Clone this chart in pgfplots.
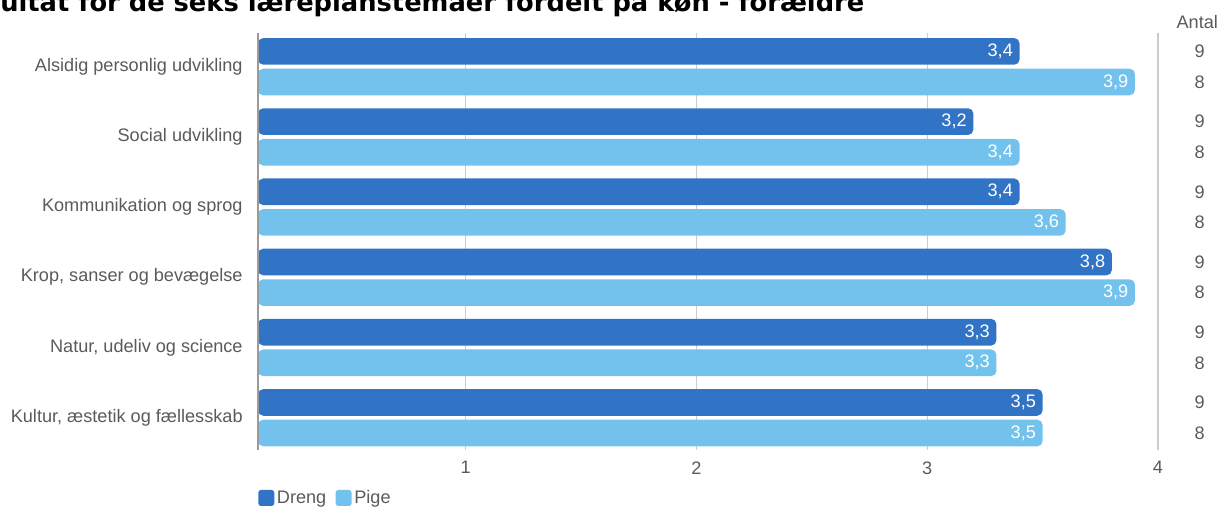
\documentclass[border=0pt]{standalone}
\usepackage{pgfplots}
\pgfplotsset{compat=1.18}
\usepackage{fontspec}
\setmainfont{Liberation Sans}
\newfontfamily\titlefont{DejaVu Sans}
\definecolor{dreng}{HTML}{3174C6}
\definecolor{pige}{HTML}{73C2EE}
\definecolor{txt}{HTML}{5A5A5A}
\definecolor{gridc}{HTML}{CCCCCC}
\definecolor{axc}{HTML}{9A9A9A}
\newcommand\lblfont{\fontsize{13.6}{15}\selectfont}
\begin{document}
\begin{tikzpicture}
\useasboundingbox (0,0) rectangle (917.25pt,381pt);
\node[anchor=base west, inner sep=0pt, font=\titlefont\bfseries\fontsize{19.3}{22}\selectfont] at (0pt,372pt) {\llap{Res}ultat for de seks læreplanstemaer fordelt på køn - forældre};
\begin{axis}[
  at={(193.5pt,43.5pt)}, anchor=south west,
  scale only axis, width=675pt, height=312.75pt,
  xbar, xmin=0.1, xmax=4,
  ymin=-0.48, ymax=5.46, y dir=reverse,
  bar width=0.38,
  axis line style={draw=none},
  xtick={1,2,3,4}, ytick={0,1,2,3,4,5},
  yticklabels={Alsidig personlig udvikling,Social udvikling,Kommunikation og sprog,Krop{,} sanser og bevægelse,{Natur, udeliv og science},Kultur{,} æstetik og fællesskab},
  major tick length=0pt,
  xmajorgrids, grid style={gridc, line width=0.8pt},
  tick label style={font=\lblfont, text=txt},
  xticklabel style={yshift=-5pt},
  yticklabel style={xshift=-8pt},
  /pgf/number format/assume math mode=true,
  clip=false,
  nodes near coords={\pgfmathprintnumber[fixed,fixed zerofill,precision=1,use comma,assume math mode=true]{\pgfplotspointmeta}},
  every node near coord/.append style={anchor=east, xshift=-1.5pt, text=white, font=\lblfont},
  legend style={at={(0,-0.115)}, anchor=west, draw=none, fill=none, legend columns=2, font=\lblfont, text=txt, inner xsep=0pt, nodes={inner xsep=2pt}, /tikz/every even column/.append style={column sep=5pt}},
]
\addplot[fill=dreng, draw=none, rounded corners=4pt, bar shift=-0.218,
  legend image code/.code={\fill[dreng,rounded corners=2pt] (0pt,-6pt) rectangle (12pt,6pt);}]
  coordinates {(3.4,0) (3.2,1) (3.4,2) (3.8,3) (3.3,4) (3.5,5)};
\addplot[fill=pige, draw=none, rounded corners=4pt, bar shift=0.218,
  legend image code/.code={\fill[pige,rounded corners=2pt] (0pt,-6pt) rectangle (12pt,6pt);}]
  coordinates {(3.9,0) (3.4,1) (3.6,2) (3.9,3) (3.3,4) (3.5,5)};
\legend{Dreng,Pige}
\draw[axc, line width=1pt] (axis cs:0.1,-0.48) -- (axis cs:0.1,5.46);
\node[text=txt, font=\lblfont] at (axis cs:4.17,-0.64) {Antal};
\pgfplotsinvokeforeach{0,...,5}{
  \node[text=txt, font=\lblfont] at (axis cs:4.18,#1-0.218) {9};
  \node[text=txt, font=\lblfont] at (axis cs:4.18,#1+0.218) {8};
}
\end{axis}
\end{tikzpicture}
\end{document}
